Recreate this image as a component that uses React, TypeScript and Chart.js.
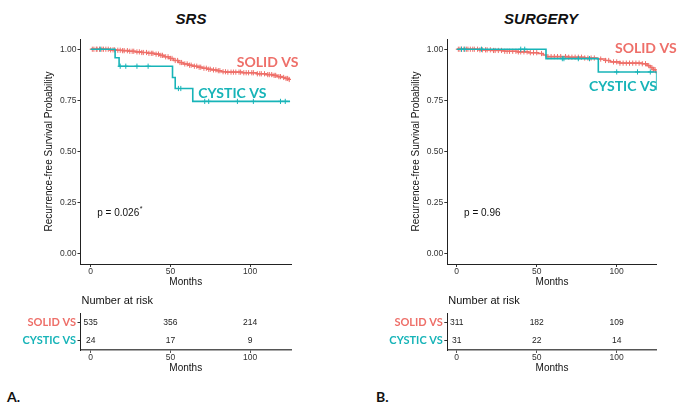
import React, { useEffect, useRef } from "react";
import { Chart, registerables } from "chart.js";

Chart.register(...registerables);

const RED = "#EE6F69";
const TEAL = "#17B4B8";
const SANS = "'Liberation Sans', Arial, sans-serif";
const LABEL_FONT = "Lato, 'Open Sans', sans-serif";

// ---- shared axis values ----
const yTickValues = [0, 0.25, 0.5, 0.75, 1];
const xTickValues = [0, 50, 100];
const riskTimes = [0, 50, 100];
const groupLabels = ["SOLID VS", "CYSTIC VS"];

// ---- Panel A: SRS ----
const srsSolidTimes = [0, 12, 16, 20, 24, 28, 32, 36, 40, 43, 46, 49, 52, 55, 58, 61, 64, 67, 70, 73, 76, 79, 82, 85, 95, 104, 110, 114, 117, 120, 122, 124, 125];
const srsSolidSurv = [1, 0.997, 0.995, 0.993, 0.99, 0.987, 0.984, 0.98, 0.976, 0.97, 0.963, 0.955, 0.945, 0.935, 0.928, 0.922, 0.917, 0.912, 0.907, 0.902, 0.899, 0.895, 0.89, 0.888, 0.885, 0.88, 0.876, 0.872, 0.866, 0.862, 0.857, 0.852, 0.852];
const srsSolidCensor = [1, 2, 3.5, 4, 5.5, 7, 8, 9.5, 11, 12.5, 14, 15, 17, 18.5, 20, 21, 23, 24.5, 26, 27, 29, 30.5, 32, 33, 35, 36.5, 38, 39, 41, 42.5, 44, 45, 47, 48.5, 50, 51, 53, 54.5, 56, 57, 59, 60.5, 62, 63, 65, 66.5, 68, 69, 71, 72.5, 74, 75, 77, 78.5, 80, 81, 83, 84.5, 86, 88, 89.5, 91, 93, 94, 96, 97.5, 99, 101, 102, 104.5, 106, 107, 109, 111, 112, 113.5, 115, 116, 118, 119, 121, 122.5, 123.5, 124.5];
const srsCysticTimes = [0, 15.3, 17.8, 51.3, 53, 64, 125];
const srsCysticSurv = [1, 0.958, 0.917, 0.862, 0.808, 0.745, 0.745];
const srsCysticCensor = [6, 18.5, 22, 29, 36, 55, 56.5, 71.5, 74, 92, 102, 119, 122];
const srsRiskSolid = [535, 356, 214];
const srsRiskCystic = [24, 17, 9];

// ---- Panel B: SURGERY ----
const surgSolidTimes = [0, 14, 22, 30, 38, 45, 51, 54, 56, 70, 80, 88, 93, 96, 102, 116, 119, 121, 123, 124.5, 125];
const surgSolidSurv = [1, 0.997, 0.994, 0.99, 0.987, 0.983, 0.979, 0.972, 0.964, 0.961, 0.957, 0.952, 0.945, 0.938, 0.932, 0.929, 0.92, 0.91, 0.9, 0.886, 0.882];
const surgSolidCensor = [1, 2, 3, 4.5, 6, 7, 8.5, 10, 11, 13, 14.5, 16, 18, 19, 21, 23, 24, 26, 28, 30, 31.5, 33, 35, 37, 38.5, 40, 42, 44, 46, 48, 50, 53, 57, 59, 61, 63, 65, 68, 70, 72, 74, 76, 78, 80, 82, 84, 86, 90, 93, 95, 98, 100, 102, 104, 106, 108, 110, 112, 114, 116, 118, 120, 122, 123, 124];
const surgCysticTimes = [0, 55.8, 88.5, 125];
const surgCysticSurv = [1, 0.954, 0.889, 0.8];
const surgCysticCensor = [3, 5, 15.5, 40, 42.5, 66, 67, 76, 83, 100, 113, 121];
const surgRiskSolid = [311, 182, 109];
const surgRiskCystic = [31, 22, 14];

function stepAt(times: number[], surv: number[], t: number) {
  let s = surv[0];
  for (let i = 0; i < times.length; i++) if (times[i] <= t) s = surv[i];
  return s;
}

type KMSpec = {
  solidTimes: number[]; solidSurv: number[]; solidCensor: number[];
  cysticTimes: number[]; cysticSurv: number[]; cysticCensor: number[];
  xMin: number; xMax: number; padRight: number; yWidth: number;
  solidLabel: { x: number; y: number }; cysticLabel: { x: number; y: number };
  pText: string; pStar: boolean; pPos: { x: number; y: number };
};

function kmConfig(s: KMSpec): any {
  const line = (times: number[], surv: number[]) => times.map((t, i) => ({ x: t, y: surv[i] }));
  const cens = (ts: number[], times: number[], surv: number[]) => ts.map((t) => ({ x: t, y: stepAt(times, surv, t) }));
  const textPlugin = {
    id: "kmText",
    afterDatasetsDraw(chart: any) {
      const { ctx } = chart;
      const x = chart.scales.x, y = chart.scales.y;
      ctx.save();
      ctx.textBaseline = "middle";
      ctx.textAlign = "left";
      ctx.font = `bold 14px ${LABEL_FONT}`;
      ctx.fillStyle = RED;
      ctx.fillText(groupLabels[0], x.getPixelForValue(s.solidLabel.x), y.getPixelForValue(s.solidLabel.y));
      ctx.fillStyle = TEAL;
      ctx.fillText(groupLabels[1], x.getPixelForValue(s.cysticLabel.x), y.getPixelForValue(s.cysticLabel.y));
      ctx.font = `10px ${SANS}`;
      ctx.fillStyle = "#111";
      const px = x.getPixelForValue(s.pPos.x), py = y.getPixelForValue(s.pPos.y);
      ctx.fillText(s.pText, px, py);
      if (s.pStar) {
        const w = ctx.measureText(s.pText).width;
        ctx.font = `7px ${SANS}`;
        ctx.fillText("*", px + w + 0.5, py - 4);
      }
      ctx.restore();
    },
  };
  return {
    type: "line",
    data: {
      datasets: [
        { data: line(s.cysticTimes, s.cysticSurv), borderColor: TEAL, borderWidth: 1.6, stepped: "before", pointRadius: 0, fill: false, order: 0 },
        { data: cens(s.cysticCensor, s.cysticTimes, s.cysticSurv), showLine: false, pointStyle: "cross", pointRadius: 2.6, pointBorderColor: TEAL, pointBorderWidth: 1, order: 0 },
        { data: line(s.solidTimes, s.solidSurv), borderColor: RED, borderWidth: 1.6, stepped: "before", pointRadius: 0, fill: false, order: 1 },
        { data: cens(s.solidCensor, s.solidTimes, s.solidSurv), showLine: false, pointStyle: "cross", pointRadius: 2.6, pointBorderColor: RED, pointBorderWidth: 1, order: 1 },
      ],
    },
    options: {
      responsive: false,
      animation: false,
      events: [],
      layout: { padding: { left: 0, top: 11, right: s.padRight, bottom: 0 } },
      plugins: { legend: { display: false }, tooltip: { enabled: false } },
      scales: {
        x: {
          type: "linear", min: s.xMin, max: s.xMax,
          afterBuildTicks: (sc: any) => { sc.ticks = xTickValues.map((v) => ({ value: v })); },
          afterFit: (sc: any) => { sc.height = 34; },
          grid: { drawOnChartArea: false, drawTicks: true, tickLength: 3, color: "#333" },
          border: { display: true, color: "#222", width: 1 },
          ticks: { font: { family: SANS, size: 8.5 }, color: "#333", padding: 0, maxRotation: 0, autoSkip: false },
          title: { display: true, text: "Months", font: { family: SANS, size: 10 }, color: "#111", padding: { top: 0, bottom: 10 } },
        },
        y: {
          type: "linear", min: -0.05, max: 1.05,
          afterBuildTicks: (sc: any) => { sc.ticks = yTickValues.map((v) => ({ value: v })); },
          afterFit: (sc: any) => { sc.width = s.yWidth; },
          grid: { drawOnChartArea: false, drawTicks: true, tickLength: 3, color: "#333" },
          border: { display: true, color: "#222", width: 1 },
          ticks: { font: { family: SANS, size: 8.5 }, color: "#333", padding: 1, callback: (v: any) => Number(v).toFixed(2) },
          title: { display: true, text: "Recurrence-free Survival Probability", font: { family: SANS, size: 10 }, color: "#111", padding: { top: 43, bottom: 0 } },
        },
      },
    },
    plugins: [textPlugin],
  };
}

type RiskSpec = { solid: number[]; cystic: number[]; xMin: number; xMax: number; padRight: number; yWidth: number };

function riskConfig(s: RiskSpec): any {
  const riskPlugin = {
    id: "riskText",
    afterDraw(chart: any) {
      const { ctx, chartArea } = chart;
      const x = chart.scales.x, y = chart.scales.y;
      ctx.save();
      ctx.textBaseline = "middle";
      ctx.font = `11px ${SANS}`;
      ctx.fillStyle = "#111";
      ctx.textAlign = "left";
      ctx.fillText("Number at risk", chartArea.left + 1, 11);
      ctx.font = `8.5px ${SANS}`;
      ctx.textAlign = "center";
      ctx.fillStyle = "#222";
      const rows = [s.solid, s.cystic];
      rows.forEach((row, r) => {
        row.forEach((n, i) => {
          ctx.fillText(String(n), x.getPixelForValue(riskTimes[i]), y.getPixelForValue(r));
        });
      });
      ctx.restore();
    },
  };
  return {
    type: "scatter",
    data: { datasets: [{ data: [], pointRadius: 0 }] },
    options: {
      responsive: false,
      animation: false,
      events: [],
      layout: { padding: { left: 0, top: 23.7, right: s.padRight, bottom: 0 } },
      plugins: { legend: { display: false }, tooltip: { enabled: false } },
      scales: {
        x: {
          type: "linear", min: s.xMin, max: s.xMax,
          afterBuildTicks: (sc: any) => { sc.ticks = xTickValues.map((v) => ({ value: v })); },
          afterFit: (sc: any) => { sc.height = 30; },
          grid: { drawOnChartArea: false, drawTicks: true, tickLength: 3, color: "#555" },
          border: { display: true, color: "#555", width: 1.4 },
          ticks: { font: { family: SANS, size: 8.5 }, color: "#333", padding: 0, maxRotation: 0, autoSkip: false },
          title: { display: true, text: "Months", font: { family: SANS, size: 10 }, color: "#111", padding: { top: 0, bottom: 5.3 } },
        },
        y: {
          type: "category", labels: groupLabels, offset: true,
          afterFit: (sc: any) => { sc.width = s.yWidth; },
          grid: { drawOnChartArea: false, drawTicks: true, tickLength: 3, color: "#333", offset: false },
          border: { display: true, color: "#222", width: 1 },
          ticks: {
            font: { family: LABEL_FONT, size: 11, weight: "bold" },
            color: (c: any) => (c.index === 0 ? RED : TEAL),
            padding: 1.5,
          },
        },
      },
    },
    plugins: [riskPlugin],
  };
}

function ChartCanvas({ left, top, width, height, config }: { left: number; top: number; width: number; height: number; config: () => any }) {
  const ref = useRef<HTMLCanvasElement | null>(null);
  useEffect(() => {
    if (!ref.current) return;
    const chart = new Chart(ref.current, config());
    return () => chart.destroy();
  }, []);
  return (
    <canvas
      ref={ref}
      width={width}
      height={height}
      style={{ position: "absolute", left, top, width, height }}
    />
  );
}

const kmA: KMSpec = {
  solidTimes: srsSolidTimes, solidSurv: srsSolidSurv, solidCensor: srsSolidCensor,
  cysticTimes: srsCysticTimes, cysticSurv: srsCysticSurv, cysticCensor: srsCysticCensor,
  xMin: -6.4, xMax: 125.6, padRight: 29, yWidth: 80.5,
  solidLabel: { x: 91.6, y: 0.937 }, cysticLabel: { x: 67.5, y: 0.785 },
  pText: "p = 0.026", pStar: true, pPos: { x: 4.1, y: 0.197 },
};
const kmB: KMSpec = {
  solidTimes: surgSolidTimes, solidSurv: surgSolidSurv, solidCensor: surgSolidCensor,
  cysticTimes: surgCysticTimes, cysticSurv: surgCysticSurv, cysticCensor: surgCysticCensor,
  xMin: -5.9, xMax: 125, padRight: 28.3, yWidth: 80.3,
  solidLabel: { x: 98.9, y: 1.005 }, cysticLabel: { x: 82.7, y: 0.82 },
  pText: "p = 0.96", pStar: false, pPos: { x: 4.6, y: 0.197 },
};
const riskA: RiskSpec = { solid: srsRiskSolid, cystic: srsRiskCystic, xMin: -6.4, xMax: 125.6, padRight: 29, yWidth: 80.5 };
const riskB: RiskSpec = { solid: surgRiskSolid, cystic: surgRiskCystic, xMin: -5.9, xMax: 125, padRight: 28.3, yWidth: 80.3 };

const titleStyle: React.CSSProperties = {
  position: "absolute", transform: "translate(-50%, -50%)", font: `italic bold 15px ${SANS}`,
  color: "#111", whiteSpace: "nowrap", lineHeight: "1",
};
const panelLetter: React.CSSProperties = {
  position: "absolute", transform: "translateY(-50%)", font: `bold 14px ${LABEL_FONT}`,
  color: "#111", whiteSpace: "nowrap", lineHeight: "1",
};

export default function App() {
  return (
    <div style={{ position: "absolute", left: 0, top: 0, width: 685, height: 414, background: "#fff", overflow: "hidden" }}>
      <div style={{ ...titleStyle, left: 191, top: 18 }}>SRS</div>
      <div style={{ ...titleStyle, left: 541, top: 18 }}>SURGERY</div>
      <ChartCanvas left={0} top={28} width={320} height={270} config={() => kmConfig(kmA)} />
      <ChartCanvas left={367} top={28} width={318} height={270} config={() => kmConfig(kmB)} />
      <ChartCanvas left={0} top={290} width={320} height={90} config={() => riskConfig(riskA)} />
      <ChartCanvas left={367} top={290} width={318} height={90} config={() => riskConfig(riskB)} />
      <div style={{ ...panelLetter, left: 7, top: 397 }}>A.</div>
      <div style={{ ...panelLetter, left: 376, top: 397 }}>B.</div>
    </div>
  );
}
